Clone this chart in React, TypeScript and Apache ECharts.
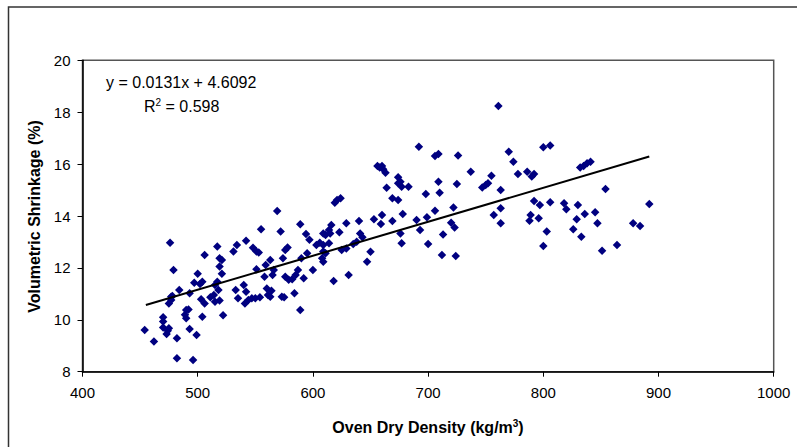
import React, { useEffect, useRef } from "react";
import * as echarts from "echarts";

// Oven dry density (kg/m3) vs volumetric shrinkage (%)
const measurements: [number, number][] = [
  [454, 9.61], [462, 9.16], [470, 10.1], [470, 9.93], [470, 9.7], [474, 9.58], [473, 9.45], [475, 9.67],
  [476, 12.97], [479, 11.92], [477, 10.89], [478, 10.92], [475, 10.63], [477, 10.76], [484, 11.15],
  [482, 8.52], [482, 9.29], [493, 9.65], [496, 8.45], [499, 9.41], [490, 10.38], [492, 10.4], [489, 10.19],
  [490, 10.06], [493, 11.02], [497, 11.43], [500, 11.77], [502, 11.38], [504, 11.47], [504, 10.12],
  [503, 10.79], [506, 10.63], [506, 12.5], [517, 12.82], [519, 12.37], [521, 12.3], [519, 12.05],
  [521, 11.77], [517, 11.47], [515, 11.34], [518, 11.15], [514, 10.96], [511, 10.87], [515, 10.7],
  [519, 10.74], [522, 10.18], [531, 12.63], [534, 12.88], [542, 13.05], [533, 11.15], [535, 10.83],
  [540, 11.34], [542, 11.08], [541, 10.63], [544, 10.76], [547, 10.83], [550, 10.83], [554, 10.87],
  [548, 12.78], [551, 12.63], [553, 12.59], [551, 11.95], [555, 13.49], [559, 12.11], [558, 11.66],
  [560, 11.21], [563, 10.89], [564, 11.12], [561, 10.96], [563, 12.3], [569, 14.19], [572, 13.4],
  [566, 11.92], [565, 11.73], [574, 12.37], [576, 12.69], [578, 12.79], [573, 10.89], [575, 10.87],
  [576, 11.66], [579, 11.54], [582, 11.56], [585, 11.73], [587, 11.92], [584, 11.02], [589, 10.38],
  [589, 13.68], [592, 11.6], [590, 12.37], [595, 12.56], [594, 13.31], [597, 13.08], [600, 11.92],
  [603, 12.88], [606, 12.97], [609, 13.33], [609, 12.63],
  [761, 18.24], [692, 16.67], [706, 16.31], [709, 16.39], [726, 16.33], [770, 16.48], [774, 16.09],
  [800, 16.65], [806, 16.72], [656, 15.93], [658, 15.87], [661, 15.8], [660, 15.93], [663, 15.67],
  [674, 15.49], [676, 15.32], [674, 15.26], [677, 15.13], [683, 15.13], [664, 15.09], [737, 15.71],
  [755, 15.55], [747, 15.1], [750, 15.19], [752, 15.26], [763, 15.0], [778, 15.62], [786, 15.71],
  [790, 15.52], [792, 15.62], [709, 15.32], [725, 15.23], [710, 14.9], [698, 14.85], [621, 14.62],
  [624, 14.68], [619, 14.51], [669, 14.68], [674, 14.62], [792, 14.58], [797, 14.42], [806, 14.53],
  [722, 14.33], [706, 14.2], [763, 14.3], [757, 14.04], [763, 13.72], [789, 14.04], [788, 13.82],
  [796, 13.91], [803, 13.4], [800, 12.84], [720, 13.74], [723, 13.56], [699, 13.95], [690, 13.85],
  [693, 13.46], [713, 13.29], [700, 12.92], [712, 12.5], [724, 12.46], [660, 14.04], [659, 13.69],
  [653, 13.87], [640, 13.81], [629, 13.72], [669, 13.81], [678, 14.08], [676, 13.33], [677, 12.95],
  [641, 13.33], [643, 13.18], [650, 12.62], [647, 12.24], [631, 11.73], [618, 11.5], [611, 13.27],
  [614, 13.46], [616, 13.65], [615, 13.33], [623, 13.37], [609, 12.88], [614, 12.95], [611, 12.56],
  [608, 12.37], [609, 12.24], [625, 12.69], [629, 12.75], [635, 12.92], [638, 13.01],
  [832, 15.87], [835, 15.93], [838, 16.03], [841, 16.09], [854, 15.04], [818, 14.49], [820, 14.26],
  [830, 14.42], [836, 14.08], [829, 13.87], [845, 14.14], [847, 13.72], [826, 13.49], [833, 13.2],
  [892, 14.46], [878, 13.72], [884, 13.61], [851, 12.66], [864, 12.88],
];

// Linear trendline end points (y = 0.0131x + 4.6092)
const trendLine: [number, number][] = [
  [455, 10.57],
  [892, 16.29],
];

const equationText = "y = 0.0131x + 4.6092";
const yAxisTitle = "Volumetric Shrinkage (%)";

const FONT = '"Liberation Sans", Arial, sans-serif';

export default function App() {
  const ref = useRef<HTMLDivElement>(null);

  useEffect(() => {
    if (!ref.current) return;
    const chart = echarts.init(ref.current, null, { renderer: "svg" });
    chart.setOption({
      animation: false,
      backgroundColor: "#ffffff",
      grid: {
        left: 82.5,
        top: 60.3,
        right: 23.3,
        bottom: 75.3,
        show: true,
        borderColor: "#555555",
        borderWidth: 1.5,
        backgroundColor: "transparent",
      },
      xAxis: {
        type: "value",
        min: 400,
        max: 1000,
        interval: 100,
        axisLine: { show: true, onZero: false, lineStyle: { color: "#000000", width: 1.5 } },
        axisTick: { show: true, length: 5, lineStyle: { color: "#000000", width: 1 } },
        axisLabel: {
          fontSize: 15,
          color: "#000000",
          margin: 13,
          fontFamily: FONT,
          formatter: (v: number) => String(v),
        },
        splitLine: { show: false },
      },
      yAxis: {
        type: "value",
        min: 8,
        max: 20,
        interval: 2,
        axisLine: { show: true, onZero: false, lineStyle: { color: "#000000", width: 1.5 } },
        axisTick: { show: true, length: 5, lineStyle: { color: "#000000", width: 1 } },
        axisLabel: {
          fontSize: 15,
          color: "#000000",
          margin: 12,
          fontFamily: FONT,
          formatter: (v: number) => String(v),
        },
        splitLine: { show: false },
      },
      series: [
        {
          type: "scatter",
          data: measurements,
          symbol: "diamond",
          symbolSize: 8.5,
          itemStyle: { color: "#000080", opacity: 1 },
          z: 2,
        },
        {
          type: "line",
          data: trendLine,
          showSymbol: false,
          symbol: "none",
          lineStyle: { color: "#000000", width: 2 },
          z: 3,
        },
      ],
      graphic: [
        {
          type: "rect",
          shape: { x: 8.5, y: 7, width: 900, height: 900 },
          style: { fill: "none", stroke: "#333333", lineWidth: 1.5 },
          silent: true,
        },
        {
          type: "text",
          x: 106,
          y: 82,
          style: {
            text: equationText,
            font: `16px ${FONT}`,
            fill: "#000000",
            align: "left",
            verticalAlign: "middle",
          },
        },
        {
          type: "text",
          x: 144,
          y: 106,
          style: {
            text: "{a|R}{s|2}{a| = 0.598}",
            fill: "#000000",
            align: "left",
            verticalAlign: "middle",
            rich: {
              a: { fontSize: 16, fontFamily: FONT, color: "#000000", lineHeight: 18 },
              s: {
                fontSize: 10,
                fontFamily: FONT,
                color: "#000000",
                lineHeight: 18,
                verticalAlign: "top",
              },
            },
          },
        },
        {
          type: "text",
          x: 428,
          y: 427,
          style: {
            text: "{b|Oven Dry Density (kg/m}{s|3}{b|)}",
            fill: "#000000",
            align: "center",
            verticalAlign: "middle",
            rich: {
              b: {
                fontSize: 16,
                fontWeight: "bold",
                fontFamily: FONT,
                color: "#000000",
                lineHeight: 18,
              },
              s: {
                fontSize: 10,
                fontWeight: "bold",
                fontFamily: FONT,
                color: "#000000",
                lineHeight: 18,
                verticalAlign: "top",
              },
            },
          },
        },
        {
          type: "text",
          x: 34,
          y: 216.5,
          rotation: Math.PI / 2,
          style: {
            text: yAxisTitle,
            font: `bold 16px ${FONT}`,
            fill: "#000000",
            align: "center",
            verticalAlign: "middle",
          },
        },
      ],
    });
    return () => chart.dispose();
  }, []);

  return (
    <div
      ref={ref}
      style={{ position: "absolute", left: 0, top: 0, width: 797, height: 447 }}
    />
  );
}
